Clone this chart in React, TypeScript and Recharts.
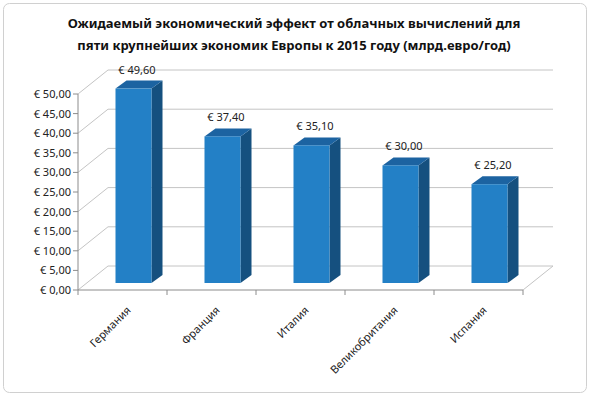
import { BarChart, Bar, XAxis, YAxis, CartesianGrid } from 'recharts'

const categories = ['Германия', 'Франция', 'Италия', 'Великобритания', 'Испания']
const values = [49.6, 37.4, 35.1, 30.0, 25.2]
const yTicks = [0, 5, 10, 15, 20, 25, 30, 35, 40, 45, 50]
const titleLines = [
  'Ожидаемый экономический эффект от облачных вычислений для',
  'пяти крупнейших экономик Европы к 2015 году (млрд.евро/год)',
]

const data = categories.map((name, i) => ({ name, value: values[i] }))

const W = 591
const H = 397
const LEFT = 78
const RIGHT = 523
const TOP = 94
const BOTTOM = 290
const BAND = (RIGHT - LEFT) / categories.length

// 3d look: depth of the box and offset of the bars into it
const WALL_DX = 30
const WALL_DY = -24
const BAR_SHIFT_X = 10.5
const BAR_SHIFT_Y = -7
const BAR_DX = 11
const BAR_DY = -8

const FONT = '"Noto Sans", sans-serif'
const GRID = '#c4c4c4'
const AXIS = '#8c8c8c'

const euro = (v: number) => `€ ${v.toFixed(2).replace('.', ',')}`

function Bar3D(props: any) {
  const { x, y, width, height } = props
  if (height == null || width == null) return null
  const fx = x + BAR_SHIFT_X
  const fy = y + BAR_SHIFT_Y
  const top = `M${fx},${fy} L${fx + BAR_DX},${fy + BAR_DY} L${fx + width + BAR_DX},${fy + BAR_DY} L${fx + width},${fy} Z`
  const side = `M${fx + width},${fy} L${fx + width + BAR_DX},${fy + BAR_DY} L${fx + width + BAR_DX},${fy + height + BAR_DY} L${fx + width},${fy + height} Z`
  return (
    <g>
      <path d={side} fill="#15507f" />
      <path d={top} fill="#1c63a1" />
      <rect x={fx} y={fy} width={width} height={height} fill="#2380c6" />
    </g>
  )
}

function BarLabel(props: any) {
  const { x, y, width, value } = props
  return (
    <text
      x={x + width / 2 + BAR_SHIFT_X + BAR_DX / 2 - 2}
      y={y + BAR_SHIFT_Y + BAR_DY - 7}
      textAnchor="middle"
      fontFamily={FONT}
      fontSize={11}
      fill="#222"
    >
      {euro(value)}
    </text>
  )
}

function GridLine(props: any) {
  const { x1, x2, y1, index } = props
  let d = `M${x1},${y1} L${x1 + WALL_DX},${y1 + WALL_DY} L${x2 + WALL_DX},${y1 + WALL_DY}`
  if (Math.abs(y1 - BOTTOM) < 1) {
    d += ` M${x2},${y1} L${x2 + WALL_DX},${y1 + WALL_DY}`
  }
  return <path key={`g-${index}-${y1}`} d={d} stroke={GRID} strokeWidth={1} fill="none" />
}

function XTick(props: any) {
  const { x, y, payload, index } = props
  const axisY = BOTTOM
  return (
    <g>
      <line x1={x - BAND / 2} y1={axisY} x2={x - BAND / 2} y2={axisY + 5} stroke={AXIS} />
      {index === categories.length - 1 && (
        <line x1={x + BAND / 2} y1={axisY} x2={x + BAND / 2} y2={axisY + 5} stroke={AXIS} />
      )}
      <text
        transform={`translate(${x + 9},${y + 13}) rotate(-45)`}
        textAnchor="end"
        fontFamily={FONT}
        fontSize={11}
        fill="#222"
      >
        {payload.value}
      </text>
    </g>
  )
}

export default function App() {
  return (
    <div style={{ position: 'absolute', left: 0, top: 0, width: W, height: H, background: '#fff' }}>
      <BarChart
        width={W}
        height={H}
        data={data}
        margin={{ top: TOP, right: W - RIGHT, bottom: H - BOTTOM - 90, left: LEFT - 70 }}
      >
        <CartesianGrid vertical={false} horizontal={GridLine} />
        <XAxis
          dataKey="name"
          height={90}
          interval={0}
          tickLine={false}
          axisLine={{ stroke: AXIS }}
          tick={<XTick />}
        />
        <YAxis
          width={70}
          domain={[0, 50]}
          ticks={yTicks}
          tickFormatter={euro}
          tickSize={5}
          axisLine={{ stroke: AXIS }}
          tickLine={{ stroke: AXIS }}
          tick={{ fontFamily: FONT, fontSize: 11, fill: '#222' }}
        />
        <Bar
          dataKey="value"
          barSize={36}
          shape={<Bar3D />}
          label={<BarLabel />}
          isAnimationActive={false}
        />
      </BarChart>
      <svg
        width={W}
        height={H}
        style={{ position: 'absolute', left: 0, top: 0, pointerEvents: 'none' }}
      >
        <rect x={3.5} y={3.5} width={583} height={389} rx={6} fill="none" stroke="#d0d0d0" />
        {titleLines.map((line, i) => (
          <text
            key={i}
            x={294}
            y={28 + i * 22}
            textAnchor="middle"
            fontFamily={FONT}
            fontWeight="bold"
            fontSize={13}
            fill="#111"
          >
            {line}
          </text>
        ))}
      </svg>
    </div>
  )
}
